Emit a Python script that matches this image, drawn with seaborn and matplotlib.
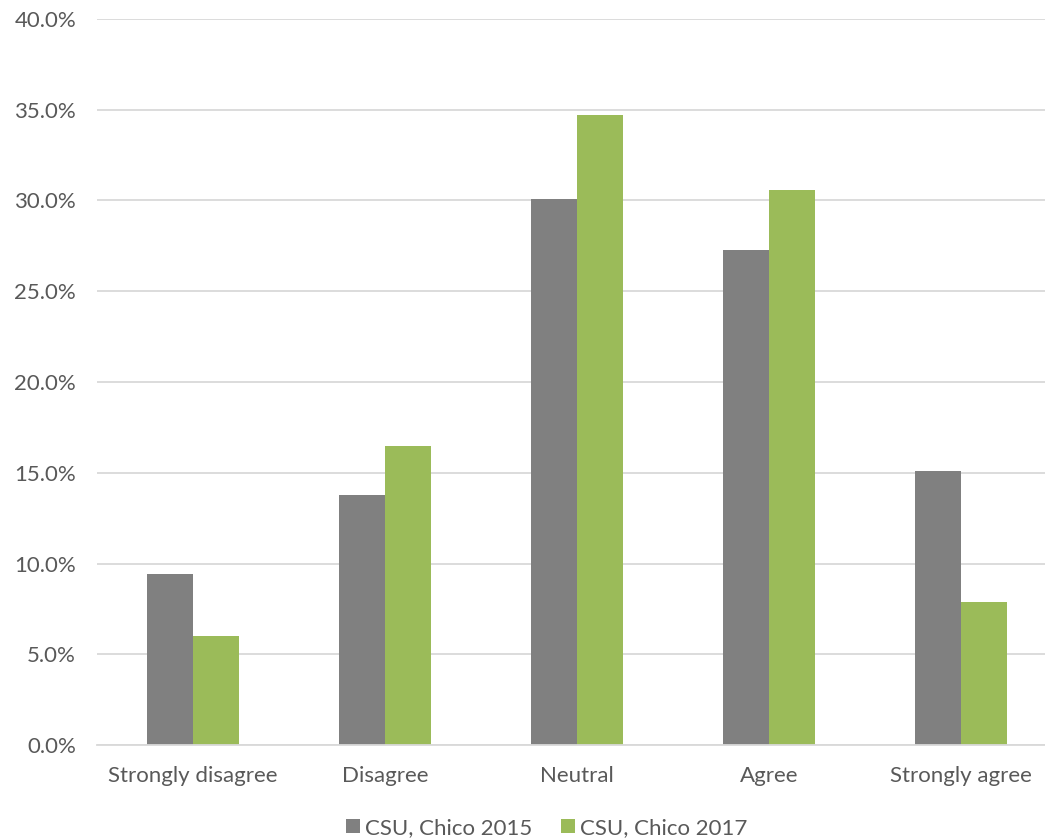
import pandas as pd
import matplotlib.pyplot as plt
import seaborn as sns
from matplotlib.ticker import PercentFormatter

categories = ["Strongly disagree", "Disagree", "Neutral", "Agree", "Strongly agree"]
series_names = ["CSU, Chico 2015", "CSU, Chico 2017"]
values_2015 = [9.4, 13.8, 30.1, 27.3, 15.1]
values_2017 = [6.0, 16.5, 34.7, 30.6, 7.9]
colors = ["#808080", "#9BBB59"]


def build_frame():
    rows = []
    for cat, v in zip(categories, values_2015):
        rows.append({"Response": cat, "Series": series_names[0], "Percent": v})
    for cat, v in zip(categories, values_2017):
        rows.append({"Response": cat, "Series": series_names[1], "Percent": v})
    return pd.DataFrame(rows)


def plot_chart(df):
    sns.set_style("white")
    plt.rcParams["font.family"] = ["Lato", "DejaVu Sans"]
    text_color = "#595959"

    fig = plt.figure(figsize=(10.45, 8.4), dpi=100)
    ax = fig.add_axes([97 / 1045, 95 / 840, 960 / 1045, 726 / 840])

    sns.barplot(data=df, x="Response", y="Percent", hue="Series",
                palette=colors, width=0.475, saturation=1, ax=ax,
                edgecolor="none", linewidth=0, errorbar=None)

    ax.set_ylim(0, 40)
    ax.set_xlim(-0.5, len(categories) - 0.5)
    ax.set_yticks(range(0, 41, 5))
    ax.yaxis.set_major_formatter(PercentFormatter(decimals=1))
    ax.yaxis.grid(True, color="#D9D9D9", linewidth=1.3)
    ax.set_axisbelow(True)
    for side in ["top", "right", "left"]:
        ax.spines[side].set_visible(False)
    ax.spines["bottom"].set_color("#D9D9D9")
    ax.spines["bottom"].set_linewidth(1.3)
    ax.tick_params(axis="both", length=0, labelsize=16, colors=text_color)
    ax.tick_params(axis="y", pad=15)
    ax.tick_params(axis="x", pad=15)
    ax.set_xlabel("")
    ax.set_ylabel("")

    handles, labels = ax.get_legend_handles_labels()
    ax.legend(handles, labels, loc="center", bbox_to_anchor=(547 / 1045, 12 / 840),
              bbox_transform=fig.transFigure, ncol=2, frameon=False,
              fontsize=16, labelcolor=text_color, handlelength=0.6,
              handleheight=0.6, handletextpad=0.25, columnspacing=1.3)

    fig.savefig("out.png", dpi=100)


def main():
    df = build_frame()
    plot_chart(df)


if __name__ == "__main__":
    main()
